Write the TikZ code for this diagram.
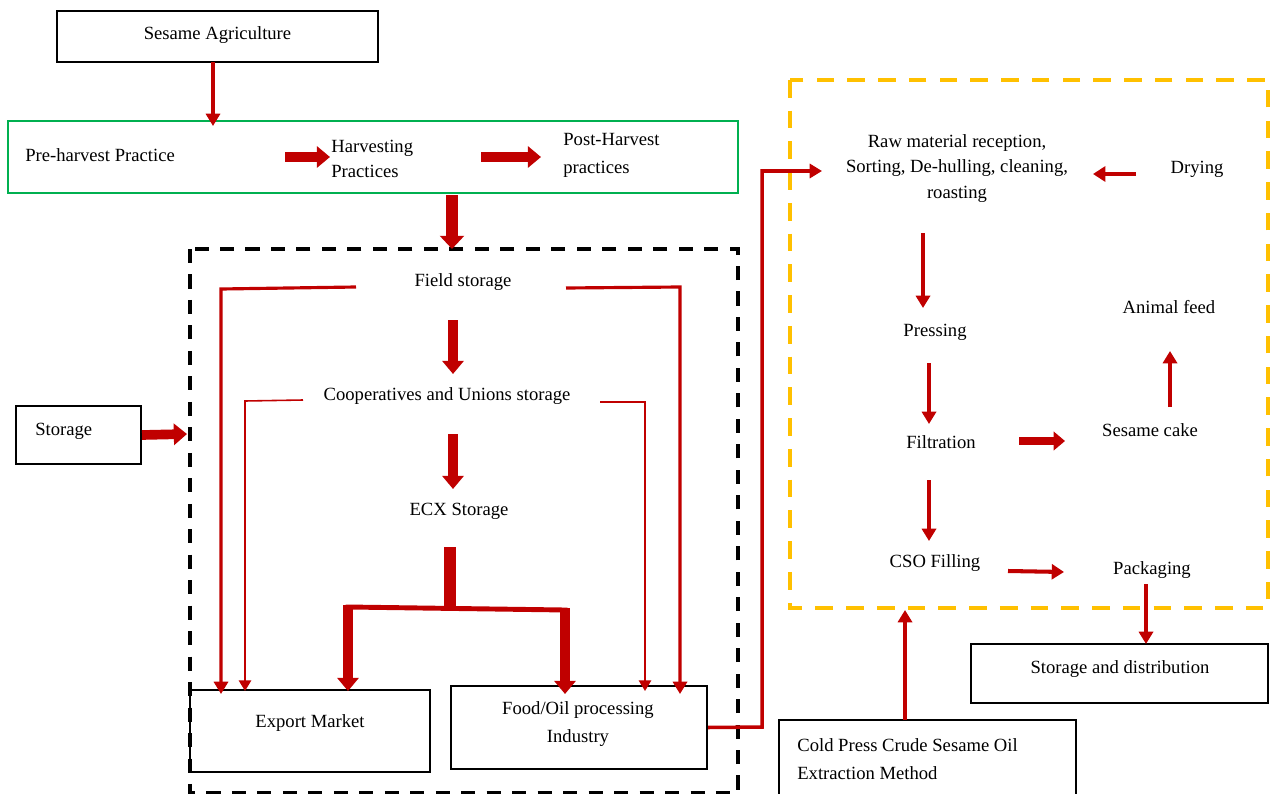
\documentclass[tikz,border=0pt]{standalone}
\usepackage{fontspec}
\setmainfont{Liberation Serif}
\usetikzlibrary{arrows.meta}
\definecolor{dred}{HTML}{C00000}
\definecolor{gbox}{HTML}{00B050}
\definecolor{ybox}{HTML}{FFC000}
\begin{document}
\begin{tikzpicture}[x=0.02cm,y=-0.02cm,
  txt/.style={font=\fontsize{10.6}{14.2}\selectfont, inner sep=0pt, align=center},
  bbox/.style={draw=black, line width=1.2pt, inner sep=0pt},
  thinarr/.style={draw=dred, line width=1.8pt, line join=miter, -{Triangle[length=7pt,width=8pt]}},
  hairarr/.style={draw=dred, line width=0.9pt, line join=miter, -{Triangle[length=6pt,width=7pt]}},
  midarr/.style={draw=dred, line width=2.3pt, -{Triangle[length=7pt,width=8.5pt]}},
  thkarr/.style={draw=dred, line width=5.5pt, -{Triangle[length=7.5pt,width=12pt]}},
  bigarr/.style={draw=dred, line width=6.8pt, -{Triangle[length=7.5pt,width=13.5pt]}},
  dashbox/.style={draw=black, line width=2.3pt, dash pattern=on 8pt off 6.5pt},
  ydashbox/.style={draw=ybox, line width=2.3pt, dash pattern=on 10pt off 7.5pt},
]
\useasboundingbox (0,0) rectangle (1271,794);
\fill[white] (0,0) rectangle (1271,794);

% containers
\node[draw=gbox, line width=1.1pt, minimum width=14.6cm, minimum height=1.44cm, inner sep=0pt] (green) at (373,157) {};
\draw[dashbox] (190,249) rectangle (738,793);
\draw[ydashbox] (790,80) rectangle (1268,608);

% boxes
\node[bbox, minimum width=6.42cm, minimum height=1.02cm] (agri) at (217.5,36.5) {};
\node[txt] (agritxt) at (217.5,35) {Sesame Agriculture};
\node[bbox, minimum width=2.5cm, minimum height=1.16cm] (storebox) at (78.5,435) {};
\node[txt, anchor=west] (storetxt) at (35,431) {Storage};
\node[bbox, minimum width=4.8cm, minimum height=1.64cm] (exportbox) at (310,731) {};
\node[txt] (exporttxt) at (310,723) {Export Market};
\node[bbox, minimum width=5.12cm, minimum height=1.66cm] (foodbox) at (579,727.5) {};
\node[txt, font=\fontsize{10.6}{15.9}\selectfont] (foodtxt) at (578,724) {Food/Oil processing\\Industry};
\node[bbox, minimum width=5.94cm, minimum height=1.18cm] (distbox) at (1119.5,673.5) {};
\node[txt] (disttxt) at (1120,669) {Storage and distribution};
\node[bbox, minimum width=5.94cm, minimum height=1.8cm] (coldbox) at (927.5,765) {};
\node[txt, align=left, anchor=west, font=\fontsize{10.6}{15.9}\selectfont] (coldtxt) at (797,759) {Cold Press Crude Sesame Oil\\Extraction Method};

% text nodes
\node[txt, anchor=west] (pre) at (25,155) {Pre-harvest Practice};
\node[txt, anchor=west, align=left] (harv) at (331,159) {Harvesting\\Practices};
\node[txt, anchor=west, align=left, font=\fontsize{10.6}{15.9}\selectfont] (post) at (563,155) {Post-Harvest\\practices};
\node[txt] (field) at (463,282) {Field storage};
\node[txt] (coop) at (447,396) {Cooperatives and Unions storage};
\node[txt] (ecx) at (459,511) {ECX Storage};
\node[txt, font=\fontsize{10.6}{14.5}\selectfont] (raw) at (957,168.5) {Raw material reception,\\Sorting, De-hulling, cleaning,\\roasting};
\node[txt] (drying) at (1197,169) {Drying};
\node[txt] (pressing) at (935,332) {Pressing};
\node[txt] (animal) at (1169,307) {Animal feed};
\node[txt] (filtration) at (941,442) {Filtration};
\node[txt] (cake) at (1150,430) {Sesame cake};
\node[txt] (cso) at (935,563) {CSO Filling};
\node[txt] (packaging) at (1152,570) {Packaging};

% coordinates for connector ends
\coordinate (c1) at (285,157);
\coordinate (c2) at (330,157);
\coordinate (c3) at (481,157);
\coordinate (c4) at (541,157);
\coordinate (ecxbar) at (450,547);
\coordinate (split) at (450,608);
\coordinate (exp1) at (348,605);
\coordinate (food1) at (565,608);
\coordinate (raw1) at (822,171);
\coordinate (dry1) at (1136,174);
\coordinate (dry2) at (1093,174);
\coordinate (agriarr) at (213,62);
\coordinate (coldarr) at (905,720);

% connectors
\draw[thinarr] (agriarr) -- (213,126);
\draw[thkarr] (c1) -- (c2);
\draw[thkarr] (c3) -- (c4);
\draw[bigarr] (452,195) -- (452,249);
\draw[thkarr] (453,320) -- (453,374);
\draw[thkarr] (453,434) -- (453,489);
\draw[thkarr] (storebox.east) -- (187,434);

\draw[thinarr] (356,287) -- (221,289) -- (221,694);
\draw[thinarr] (566,288) -- (680,287) -- (680,694);
\draw[hairarr] (303,400) -- (245,401) -- (245,691);
\draw[hairarr] (600,402) -- (645,402) -- (645,691);

\draw[draw=dred, line width=6.8pt] (ecxbar) -- (split);
\draw[draw=dred, line width=2.8pt, line cap=rect] (348,607) -- (565,610);
\draw[thkarr] (exp1) -- (348,691);
\draw[thkarr] (food1) -- (565,694);

\draw[thinarr, line width=2pt] (foodbox.east) -- (762,727) -- (762,171) -- (raw1);
\draw[midarr] (dry1) -- (dry2);
\draw[thinarr] (923,233) -- (923,308);
\draw[thinarr] (1170,407) -- (1170,351);
\draw[thinarr] (929,363) -- (929,424);
\draw[thkarr, line width=4.6pt, -{Triangle[length=6.5pt,width=10.5pt]}] (1019,441) -- (1065,441);
\draw[thinarr] (929,480) -- (929,541);
\draw[midarr] (1008,571) -- (1064,572);
\draw[thinarr] (1146,584) -- (1146,644);
\draw[thinarr] (coldarr) -- (905,610);
\end{tikzpicture}
\end{document}
